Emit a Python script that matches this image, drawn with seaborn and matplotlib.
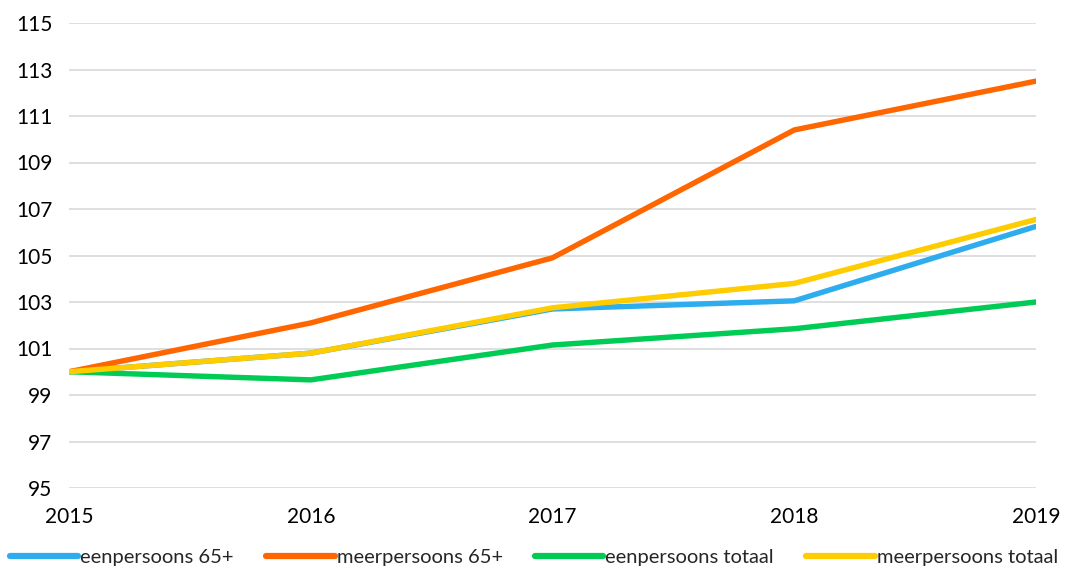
import matplotlib
matplotlib.use("Agg")
import matplotlib.pyplot as plt
import pandas as pd
import seaborn as sns

years = [2015, 2016, 2017, 2018, 2019]
eenpersoons_65 = [100.0, 100.8, 102.7, 103.05, 106.25]
meerpersoons_65 = [100.0, 102.1, 104.9, 110.4, 112.5]
eenpersoons_totaal = [100.0, 99.65, 101.15, 101.85, 103.0]
meerpersoons_totaal = [100.0, 100.8, 102.75, 103.8, 106.55]

labels = ["eenpersoons 65+", "meerpersoons 65+", "eenpersoons totaal", "meerpersoons totaal"]
colors = ["#2EADEE", "#FF6600", "#00CC55", "#FFCC00"]

series = [eenpersoons_65, meerpersoons_65, eenpersoons_totaal, meerpersoons_totaal]
rows = []
for lab, vals in zip(labels, series):
    for y, v in zip(years, vals):
        rows.append({"jaar": y, "index": v, "reeks": lab})
df = pd.DataFrame(rows)

sns.set_style("white")
plt.rcParams['font.family'] = ['Lato', 'DejaVu Sans']

fig = plt.figure(figsize=(10.68, 5.67), dpi=100)
ax = fig.add_axes([69 / 1068, 1 - 488 / 567, (1036 - 69) / 1068, (488 - 23) / 567])

sns.lineplot(data=df, x="jaar", y="index", hue="reeks", hue_order=labels,
             palette=colors, linewidth=3.9, ax=ax, legend=False)

ax.set_xlim(2015, 2019)
ax.set_ylim(95, 115)
ax.set_xticks(years)
ax.set_yticks(range(95, 116, 2))
ax.tick_params(axis="both", labelsize=15, length=0, colors="black")
ax.tick_params(axis="x", pad=14)
ax.tick_params(axis="y", pad=12)
ax.grid(axis="y", color="#d9d9d9", linewidth=1.2)
ax.set_axisbelow(True)
for s in ax.spines.values():
    s.set_visible(False)
ax.set_xlabel("")
ax.set_ylabel("")

handles = [plt.Line2D([], [], color=c, linewidth=4.5, solid_capstyle="round") for c in colors]
fig.legend(handles, labels, loc="lower center", ncol=4, frameon=False,
           fontsize=14.5, handlelength=3.4, handletextpad=0.1, columnspacing=1.6,
           bbox_to_anchor=(0.5, -0.03))

fig.savefig("out.png", dpi=100)
